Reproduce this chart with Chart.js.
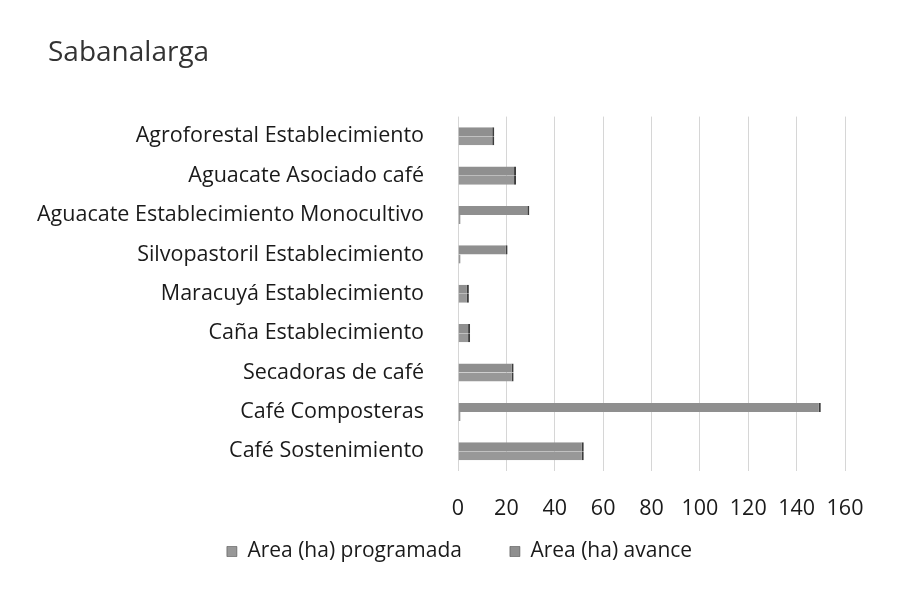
<!DOCTYPE html>
<html>
<head>
<meta charset="utf-8">
<script src="https://cdn.jsdelivr.net/npm/chart.js@4/dist/chart.umd.min.js"></script>
<style>
    html, body { margin: 0; padding: 0; background: #fff; }
    #wrap { width: 898px; height: 603px; position: relative; }
</style>
</head>
<body>
<div id="wrap"><canvas id="chart"></canvas></div>
<script>
// Categories, bottom to top as in the original sheet
const categories = [
    'Café Sostenimiento',
    'Café Composteras',
    'Secadoras de café',
    'Caña Establecimiento',
    'Maracuyá Establecimiento',
    'Silvopastoril Establecimiento',
    'Aguacate Establecimiento Monocultivo',
    'Aguacate Asociado café',
    'Agroforestal Establecimiento'
];

// Series values (ha)
const areaProgramada = [52, 1, 23, 5, 4.5, 1, 1, 24, 15];
const areaAvance = [52, 150, 23, 5, 4.5, 20.5, 29.5, 24, 15];

const xTicks = [0, 20, 40, 60, 80, 100, 120, 140, 160];

const fontFamily = '"Open Sans", "Noto Sans", sans-serif';
const textColor = '#1a1a1a';

// Tweak boxes after layout: x labels hang into the legend's top padding,
// long y labels need room left of the title margin, legend sits a bit right
const layoutTweaks = {
    id: 'layoutTweaks',
    afterLayout(chart) {
        chart.scales.x.bottom += 40;
        chart.scales.y.left -= 20;
        chart.legend.left += 13;
        chart.legend.right += 13;
    }
};

new Chart(document.getElementById('chart'), {
    type: 'bar',
    data: {
        labels: categories,
        datasets: [
            {
                // dataset 0 sits on top of each group
                label: 'Area (ha) avance',
                data: areaAvance,
                backgroundColor: '#8f8f8f',
                borderColor: '#3c3c3c',
                borderWidth: { top: 0, bottom: 0, right: 2, left: 0 },
                borderSkipped: 'start',
                barPercentage: 1,
                categoryPercentage: 0.46
            },
            {
                label: 'Area (ha) programada',
                data: areaProgramada,
                backgroundColor: '#989898',
                borderColor: '#3c3c3c',
                borderWidth: { top: 0, bottom: 0, right: 2, left: 0 },
                borderSkipped: 'start',
                barPercentage: 1,
                categoryPercentage: 0.46
            }
        ]
    },
    options: {
        indexAxis: 'y',
        responsive: true,
        maintainAspectRatio: false,
        animation: false,
        layout: {
            padding: { left: 48, right: 53, top: 0, bottom: 31 }
        },
        scales: {
            x: {
                min: 0,
                max: 160,
                afterBuildTicks: axis => {
                    axis.ticks = xTicks.map(v => ({ value: v }));
                },
                afterFit: scale => { scale.height = 22; },
                grid: { color: '#d6d6d6', drawTicks: false },
                border: { display: false },
                ticks: {
                    color: textColor,
                    padding: 25,
                    font: { family: fontFamily, size: 21.5 }
                }
            },
            y: {
                reverse: true,
                afterFit: scale => { scale.width = 410; },
                grid: { display: false },
                border: { display: false },
                ticks: {
                    color: textColor,
                    padding: 26,
                    font: { family: fontFamily, size: 21.5 }
                }
            }
        },
        plugins: {
            title: {
                display: true,
                text: 'Sabanalarga',
                align: 'start',
                color: '#333',
                font: { family: fontFamily, size: 28, weight: 'normal' },
                padding: { top: 36, bottom: 47 }
            },
            legend: {
                position: 'bottom',
                reverse: true,
                labels: {
                    color: textColor,
                    boxWidth: 10,
                    boxHeight: 10,
                    padding: 48,
                    font: { family: fontFamily, size: 21 }
                }
            },
            tooltip: { enabled: false }
        }
    },
    plugins: [layoutTweaks]
});
</script>
</body>
</html>
